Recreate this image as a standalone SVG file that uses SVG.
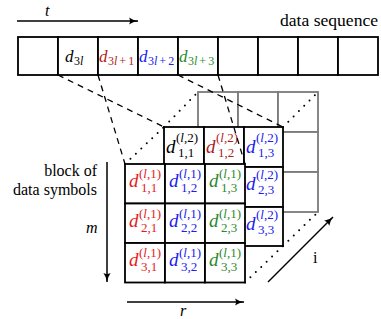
<svg xmlns="http://www.w3.org/2000/svg" width="381" height="319" viewBox="0 0 381 319" font-family="'DejaVu Serif', 'Liberation Serif', serif">
<defs>
<marker id="ah" markerWidth="10" markerHeight="8" viewBox="0 -4 10 8" refX="9" refY="0" orient="auto" markerUnits="userSpaceOnUse">
<path d="M0,-3.6 Q4,-0.8 9,0 Q4,0.8 0,3.6 Q2,0 0,-3.6 z" fill="#000"/>
</marker>
</defs>
<style>
text{font-family:'Liberation Serif','DejaVu Serif',serif;fill:#000}
.it{font-style:italic}
.d{font-size:19px;font-style:italic}
.s{font-size:13px}
.dd{font-size:17px;font-style:italic}
.ss{font-size:12px}
.lbl{font-size:16px}
.blk{fill:#fff;stroke:#000;stroke-width:1.8}
.gry{fill:#fff;stroke:#7a7a7a;stroke-width:1.8}
.dash{stroke:#000;stroke-width:1.3;stroke-dasharray:6 5;fill:none}
.dot{stroke:#000;stroke-width:2;stroke-dasharray:0 7.5;stroke-linecap:round;fill:none}
.arr{stroke:#000;stroke-width:1.5;fill:none;marker-end:url(#ah)}
.red{fill:#e41c1c}
.dred{fill:#b01c1c}
.blu{fill:#2020ee}
.grn{fill:#2a8a2a}
</style>

<g id="labels">
<text class="lbl it" x="45" y="16">t</text>
<text class="lbl" x="378" y="26" text-anchor="end" textLength="98" lengthAdjust="spacingAndGlyphs">data sequence</text>
<text class="lbl" x="97" y="176" text-anchor="end">block of</text>
<text class="lbl" x="97" y="195" text-anchor="end">data symbols</text>
<text class="lbl it" x="86" y="233">m</text>
<text class="lbl it" x="180" y="316">r</text>
<text class="lbl" x="313" y="263">i</text>
</g>

<g id="data-sequence">
<rect class="blk" x="18" y="37" width="40" height="38"/>
<rect class="blk" x="58" y="37" width="40" height="38"/>
<rect class="blk" x="98" y="37" width="40" height="38"/>
<rect class="blk" x="138" y="37" width="40" height="38"/>
<rect class="blk" x="178" y="37" width="40" height="38"/>
<rect class="blk" x="218" y="37" width="40" height="38"/>
<rect class="blk" x="258" y="37" width="40" height="38"/>
<rect class="blk" x="298" y="37" width="40" height="38"/>
<rect class="blk" x="338" y="37" width="40" height="38"/>
<text class="dd" x="65" y="62">d</text><text class="ss" x="74" y="65">3<tspan class="it">l</tspan></text>
<text class="dd dred" x="99" y="62">d</text><text class="ss dred" x="108" y="65">3<tspan class="it">l</tspan><tspan dx="2">+</tspan><tspan dx="2">1</tspan></text>
<text class="dd blu" x="139" y="62">d</text><text class="ss blu" x="148" y="65">3<tspan class="it">l</tspan><tspan dx="2">+</tspan><tspan dx="2">2</tspan></text>
<text class="dd grn" x="179" y="62">d</text><text class="ss grn" x="188" y="65">3<tspan class="it">l</tspan><tspan dx="2">+</tspan><tspan dx="2">3</tspan></text>
</g>

<g id="layer3">
<rect class="gry" x="198" y="92" width="40" height="40"/>
<rect class="gry" x="238" y="92" width="40" height="40"/>
<rect class="gry" x="278" y="92" width="40" height="40"/>
<rect class="gry" x="278" y="132" width="40" height="40"/>
<rect class="gry" x="278" y="172" width="40" height="40"/>
</g>

<g id="layer2">
<rect class="blk" x="164" y="127" width="40" height="40"/>
<rect class="blk" x="204" y="127" width="40" height="40"/>
<rect class="blk" x="244" y="127" width="39" height="40"/>
<rect class="blk" x="244" y="167" width="39" height="40"/>
<rect class="blk" x="244" y="207" width="39" height="39"/>
<text class="d" x="166" y="153">d</text><text class="s" x="176" y="142">(<tspan class="it">l</tspan>,2)</text><text class="s" x="178" y="157">1,1</text>
<text class="d dred" x="206" y="153">d</text><text class="s dred" x="216" y="142">(<tspan class="it">l</tspan>,2)</text><text class="s dred" x="218" y="157">1,2</text>
<text class="d blu" x="246" y="153">d</text><text class="s blu" x="256" y="142">(<tspan class="it">l</tspan>,2)</text><text class="s blu" x="258" y="157">1,3</text>
<text class="d blu" x="246" y="190">d</text><text class="s blu" x="256" y="179">(<tspan class="it">l</tspan>,2)</text><text class="s blu" x="258" y="194">2,3</text>
<text class="d blu" x="246" y="230">d</text><text class="s blu" x="256" y="219">(<tspan class="it">l</tspan>,2)</text><text class="s blu" x="258" y="234">3,3</text>
</g>

<g id="layer1">
<rect class="blk" x="125" y="164" width="40" height="39.5"/>
<rect class="blk" x="165" y="164" width="40" height="39.5"/>
<rect class="blk" x="205" y="164" width="40" height="39.5"/>
<rect class="blk" x="125" y="203.5" width="40" height="39.5"/>
<rect class="blk" x="165" y="203.5" width="40" height="39.5"/>
<rect class="blk" x="205" y="203.5" width="40" height="39.5"/>
<rect class="blk" x="125" y="243" width="40" height="39.5"/>
<rect class="blk" x="165" y="243" width="40" height="39.5"/>
<rect class="blk" x="205" y="243" width="40" height="39.5"/>
<text class="d red" x="129" y="187">d</text><text class="s red" x="139" y="178">(<tspan class="it">l</tspan>,1)</text><text class="s red" x="141" y="192">1,1</text>
<text class="d blu" x="169" y="187">d</text><text class="s blu" x="179" y="178">(<tspan class="it">l</tspan>,1)</text><text class="s blu" x="181" y="192">1,2</text>
<text class="d grn" x="209" y="187">d</text><text class="s grn" x="219" y="178">(<tspan class="it">l</tspan>,1)</text><text class="s grn" x="221" y="192">1,3</text>
<text class="d red" x="129" y="226.5">d</text><text class="s red" x="139" y="217.5">(<tspan class="it">l</tspan>,1)</text><text class="s red" x="141" y="231.5">2,1</text>
<text class="d blu" x="169" y="226.5">d</text><text class="s blu" x="179" y="217.5">(<tspan class="it">l</tspan>,1)</text><text class="s blu" x="181" y="231.5">2,2</text>
<text class="d grn" x="209" y="226.5">d</text><text class="s grn" x="219" y="217.5">(<tspan class="it">l</tspan>,1)</text><text class="s grn" x="221" y="231.5">2,3</text>
<text class="d red" x="129" y="266">d</text><text class="s red" x="139" y="257">(<tspan class="it">l</tspan>,1)</text><text class="s red" x="141" y="271">3,1</text>
<text class="d blu" x="169" y="266">d</text><text class="s blu" x="179" y="257">(<tspan class="it">l</tspan>,1)</text><text class="s blu" x="181" y="271">3,2</text>
<text class="d grn" x="209" y="266">d</text><text class="s grn" x="219" y="257">(<tspan class="it">l</tspan>,1)</text><text class="s grn" x="221" y="271">3,3</text>
</g>

<g id="connectors">
<line class="arr" x1="17" y1="21" x2="138" y2="21"/>
<line class="arr" x1="107" y1="162" x2="107" y2="282"/>
<line class="arr" x1="127" y1="302" x2="244" y2="302"/>
<line class="arr" x1="268" y1="282" x2="333" y2="217"/>
<line class="dash" x1="58" y1="75" x2="164" y2="127"/>
<line class="dash" x1="98" y1="75" x2="125" y2="164"/>
<line class="dash" x1="178" y1="75" x2="283" y2="127"/>
<line class="dash" x1="218" y1="75" x2="245" y2="164"/>
<line class="dot" x1="125" y1="164" x2="164" y2="127"/>
<line class="dot" x1="164" y1="127" x2="198" y2="92"/>
<line class="dot" x1="283" y1="127" x2="318" y2="92"/>
<line class="dot" x1="245" y1="282.5" x2="283" y2="246"/>
<line class="dot" x1="283" y1="246" x2="318" y2="212"/>
</g>
</svg>
